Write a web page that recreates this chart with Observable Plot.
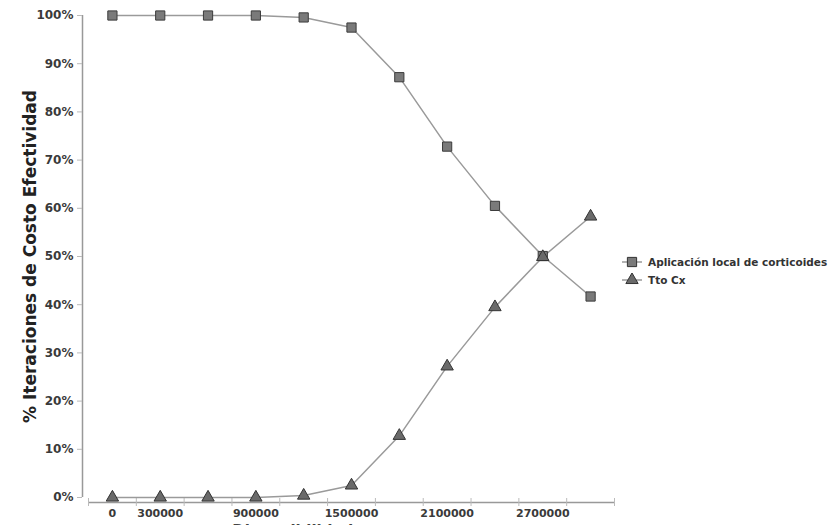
<!DOCTYPE html>
<html>
<head>
<meta charset="utf-8">
<script src="https://cdn.jsdelivr.net/npm/d3@7"></script>
<script src="https://cdn.jsdelivr.net/npm/@observablehq/plot@0.6"></script>
<style>
  html, body { margin: 0; padding: 0; background: #fff; overflow: hidden; }
  #wrap { position: relative; width: 830px; height: 525px; overflow: hidden; }
  #legend { position: absolute; left: 621px; top: 253px; font-family: "DejaVu Sans", Verdana, sans-serif; font-weight: bold; font-size: 10.5px; color: #333; }
  #legend .row { display: flex; align-items: center; height: 18px; }
  #legend svg { margin-right: 5px; }
</style>
</head>
<body>
<div id="wrap"><div id="chart"></div><div id="legend"></div></div>
<script>
// Data
const thresholds = [0, 300000, 600000, 900000, 1200000, 1500000, 1800000, 2100000, 2400000, 2700000, 3000000];
const corticoides = [100, 100, 100, 100, 99.6, 97.5, 87.2, 72.8, 60.5, 50.1, 41.7];
const ttoCx = [0, 0, 0, 0, 0.4, 2.5, 12.8, 27.2, 39.5, 49.9, 58.3];
const seriesNames = ["Aplicación local de corticoides", "Tto Cx"];
const xTickLabels = [0, 300000, 900000, 1500000, 2100000, 2700000];
const xBoundaries = [-150000, 150000, 450000, 750000, 1050000, 1350000, 1650000, 1950000, 2250000, 2550000, 2850000, 3150000];
const yTicks = [0, 10, 20, 30, 40, 50, 60, 70, 80, 90, 100];
const yTitle = "% Iteraciones de Costo Efectividad";
const xTitle = "Disponibilidad a pagar";

const rowsA = thresholds.map((x, i) => ({x, y: corticoides[i]}));
const rowsB = thresholds.map((x, i) => ({x, y: ttoCx[i]}));

const font = '"DejaVu Sans", Verdana, sans-serif';

const plot = Plot.plot({
  width: 830,
  height: 545,
  marginLeft: 88,
  marginRight: 216,
  marginTop: 15,
  marginBottom: 48,
  style: {fontFamily: font, background: "#fff"},
  x: {type: "linear", domain: [xBoundaries[0], xBoundaries[xBoundaries.length - 1]], axis: null},
  y: {domain: [0, 100], axis: null},
  marks: [
    // y axis line
    Plot.ruleX([xBoundaries[0]], {y1: 0, y2: 100, dx: -6, stroke: "#999", strokeWidth: 1.5}),
    // y ticks
    Plot.axisY(yTicks, {anchor: "left", tickSize: 5, dx: -6, tickPadding: 4, stroke: "#bbb",
      tickFormat: d => d + "%", fontSize: 12, fontWeight: "bold", fill: "#3a3a3a", label: null}),
    // x axis line
    Plot.ruleY([0], {x1: xBoundaries[0], x2: xBoundaries[xBoundaries.length - 1], dy: 5, stroke: "#999", strokeWidth: 1.5}),
    // x tick marks at category boundaries
    Plot.axisX(xBoundaries, {anchor: "bottom", tickSize: 8, dy: 1, stroke: "#bbb", tickFormat: () => "", label: null}),
    // x labels
    Plot.text(xTickLabels, {x: d => d, frameAnchor: "bottom", dy: 19, text: d => String(d),
      fontSize: 11, fontWeight: "bold", fill: "#3a3a3a"}),
    // y title
    Plot.text([yTitle], {frameAnchor: "left", dx: -58, rotate: -90, textAnchor: "middle", text: d => d,
      fontSize: 17, fontWeight: "bold", fill: "#222"}),
    // x title (cut off at the bottom edge as in the reference)
    Plot.text([xTitle], {x: 1350000, frameAnchor: "bottom", dy: 38, text: d => d,
      fontSize: 15, fontWeight: "bold", fill: "#444"}),
    // series lines
    Plot.line(rowsA, {x: "x", y: "y", stroke: "#9a9a9a", strokeWidth: 1.5}),
    Plot.line(rowsB, {x: "x", y: "y", stroke: "#9a9a9a", strokeWidth: 1.5}),
    Plot.dot(rowsA, {x: "x", y: "y", symbol: "square", r: 5.2, fill: "#7a7a7a", stroke: "#3c3c3c", strokeWidth: 1}),
    Plot.dot(rowsB, {x: "x", y: "y", symbol: "triangle", r: 4.6, fill: "#6a6a6a", stroke: "#333", strokeWidth: 1})
  ]
});
document.getElementById("chart").appendChild(plot);

// Legend
const legend = d3.select("#legend");
const symbols = [d3.symbolSquare, d3.symbolTriangle];
const fills = ["#7a7a7a", "#6a6a6a"];
const sizes = [85, 65];
seriesNames.forEach((name, i) => {
  const row = legend.append("div").attr("class", "row");
  const s = row.append("svg").attr("width", 22).attr("height", 14);
  s.append("line").attr("x1", 1).attr("x2", 21).attr("y1", 7).attr("y2", 7).attr("stroke", "#9a9a9a").attr("stroke-width", 1.5);
  s.append("path").attr("transform", "translate(11,7)").attr("d", d3.symbol(symbols[i], sizes[i])())
    .attr("fill", fills[i]).attr("stroke", "#333").attr("stroke-width", 1);
  row.append("span").text(name);
});
</script>
</body>
</html>
